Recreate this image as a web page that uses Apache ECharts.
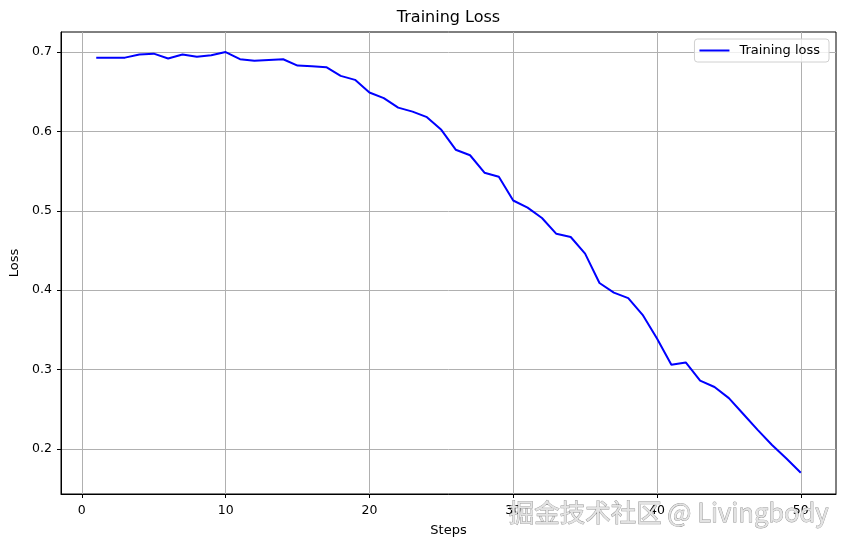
<!DOCTYPE html>
<html>
<head>
<meta charset="utf-8">
<script src="https://cdn.jsdelivr.net/npm/echarts@6/dist/echarts.min.js"></script>
<style>
html,body{margin:0;padding:0;background:#fff;}
#chart{width:846px;height:547px;}
</style>
</head>
<body>
<div id="chart"></div>
<script>
const steps = [1,2,3,4,5,6,7,8,9,10,11,12,13,14,15,16,17,18,19,20,21,22,23,24,25,26,27,28,29,30,31,32,33,34,35,36,37,38,39,40,41,42,43,44,45,46,47,48,49,50];
const trainingLoss = [0.693,0.693,0.693,0.697,0.698,0.692,0.697,0.694,0.696,0.700,
  0.691,0.689,0.690,0.691,0.683,0.682,0.681,0.670,0.665,0.649,
  0.642,0.630,0.625,0.618,0.602,0.577,0.570,0.548,0.543,0.513,
  0.504,0.491,0.471,0.467,0.446,0.409,0.397,0.390,0.369,0.339,
  0.306,0.309,0.286,0.278,0.264,0.244,0.224,0.205,0.188,0.170];
const xTicks = [0,10,20,30,40,50];
const yTicks = [0.2,0.3,0.4,0.5,0.6,0.7];
const titleText = 'Training Loss';
const seriesName = 'Training loss';
const xName = 'Steps';
const yName = 'Loss';
const watermark = '掘金技术社区 @ Livingbody';

const FONT = 'DejaVu Sans';
const chart = echarts.init(document.getElementById('chart'), null, {renderer:'canvas'});
const axisCommon = {
  type: 'value',
  axisLine: {show: true, onZero: false, lineStyle: {color: '#000', width: 1}},
  axisTick: {show: true, inside: false, length: 4, lineStyle: {color: '#000', width: 1}},
  splitLine: {show: true, lineStyle: {color: '#b0b0b0', width: 1}},
  axisLabel: {color: '#000', fontFamily: FONT, fontSize: 12.5}
};
chart.setOption({
  backgroundColor: '#fff',
  animation: false,
  title: {
    text: titleText, left: 448.5, top: 10, textAlign: 'center', padding: 0,
    textStyle: {fontFamily: FONT, fontSize: 16, fontWeight: 'normal', color: '#000'}
  },
  legend: {
    right: 17, top: 39, orient: 'vertical',
    padding: [5, 9, 5, 5], itemWidth: 30, itemHeight: 14, itemGap: 0,
    backgroundColor: 'rgba(255,255,255,0.8)', borderColor: '#d0d0d0', borderWidth: 1, borderRadius: 3,
    textStyle: {fontFamily: FONT, fontSize: 13, color: '#000', padding: [0,0,0,5]},
    data: [{name: seriesName, icon: 'path://M0,0 L30,0 L30,2 L0,2 Z', itemStyle: {color: '#0000ff'}}]
  },
  grid: {left: 61, right: 10, top: 32, bottom: 53, show: true, borderColor: '#000', borderWidth: 1,
    backgroundColor: 'transparent', outerBoundsMode: 'none', containLabel: false},
  xAxis: Object.assign({}, axisCommon, {
    min: -1.45, max: 52.45,
    name: xName, nameLocation: 'middle', nameGap: 30,
    nameTextStyle: {fontFamily: FONT, fontSize: 13, color: '#000'},
    axisTick: Object.assign({}, axisCommon.axisTick, {customValues: xTicks}),
    axisLabel: Object.assign({}, axisCommon.axisLabel, {customValues: xTicks, margin: 10})
  }),
  yAxis: Object.assign({}, axisCommon, {
    min: 0.1432, max: 0.7253,
    name: yName, nameLocation: 'middle', nameGap: 38, nameRotate: 90,
    nameTextStyle: {fontFamily: FONT, fontSize: 13, color: '#000'},
    axisTick: Object.assign({}, axisCommon.axisTick, {customValues: yTicks}),
    axisLabel: Object.assign({}, axisCommon.axisLabel, {customValues: yTicks, margin: 9})
  }),
  series: [{
    name: seriesName, type: 'line', symbol: 'none', showSymbol: false,
    data: steps.map((s, i) => [s, trainingLoss[i]]),
    lineStyle: {color: '#0000ff', width: 2},
    itemStyle: {color: '#0000ff'}
  }],
  graphic: [{
    type: 'text', right: 17, top: 499, z: 100,
    style: {
      text: watermark, font: '25.5px "Noto Sans CJK SC"',
      fill: '#e3e3e3', stroke: 'rgba(70,70,70,0.6)', lineWidth: 0.8,
      shadowColor: 'rgba(40,40,40,0.9)', shadowBlur: 1.5, shadowOffsetX: 1.5, shadowOffsetY: 1.5
    }
  }]
});
</script>
</body>
</html>
